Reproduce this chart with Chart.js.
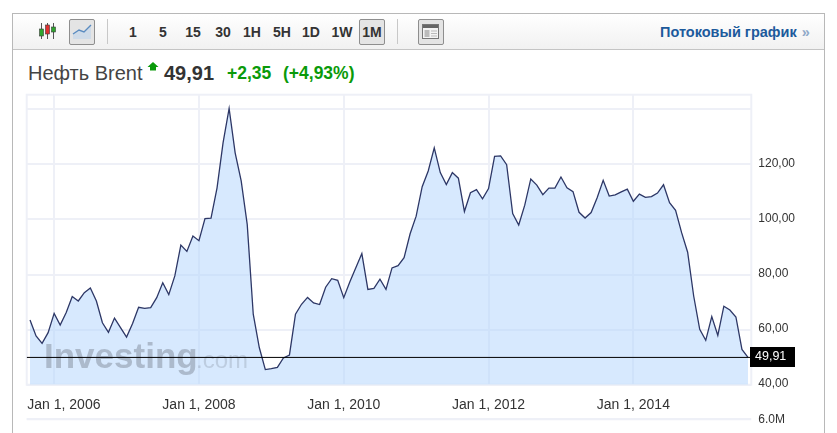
<!DOCTYPE html>
<html>
<head>
<meta charset="utf-8">
<title>Нефть Brent</title>
<script src="https://cdn.jsdelivr.net/npm/chart.js@4"></script>
<style>
html, body { margin: 0; padding: 0; background: #fff; overflow: hidden; }
body { width: 837px; height: 433px; position: relative; font-family: "Liberation Sans", Arial, sans-serif; }
#frame { position: absolute; left: 12px; top: 13px; width: 811px; height: 430px; border: 1px solid #b8b8b8; }
#toolbar { position: absolute; left: 13px; top: 14px; width: 811px; height: 35px; border-bottom: 1px solid #c4c4c4; background: linear-gradient(#fff, #f1f1f1); }
.range { position: absolute; top: 24px; width: 30px; text-align: center; font-size: 14px; line-height: 16px; font-weight: bold; color: #333; }
.btn { position: absolute; top: 19px; height: 24px; border: 1px solid #8e8e8e; border-radius: 2px; background: #e4e4e4; }
.sep { position: absolute; top: 19px; width: 1px; height: 25px; background: #c8c8c8; }
#stream { position: absolute; left: 660px; top: 24px; font-size: 14.5px; line-height: 16px; font-weight: bold; color: #1c5a9c; white-space: nowrap; }
#stream span { color: #8fa9c9; margin-left: 5px; }
.quote { position: absolute; white-space: nowrap; line-height: 22px; top: 62px; }
svg { position: absolute; }
canvas { position: absolute; left: 0; }
</style>
</head>
<body>
<div id="frame"></div>
<div id="toolbar"></div>

<svg style="left:38px;top:21px" width="20" height="20">
  <path d="M3.5 2v16M9.5 2v16M15.5 2v16" stroke="#555" stroke-width="1"/>
  <rect x="1.5" y="8" width="4" height="7" fill="#2fa52f" stroke="#3a3a3a" stroke-width=".6"/>
  <rect x="7.5" y="4" width="4" height="9" fill="#e03030" stroke="#3a3a3a" stroke-width=".6"/>
  <rect x="13.5" y="6" width="4" height="5" fill="#2fa52f" stroke="#3a3a3a" stroke-width=".6"/>
</svg>
<div class="btn" style="left:69px;width:24px"></div>
<svg style="left:71px;top:21px" width="22" height="22">
  <path d="M2 13 L8 9 L13 11 L20 4 V18 H2 Z" fill="#cfdbe8"/>
  <path d="M2 13 L8 9 L13 11 L20 4" fill="none" stroke="#5b8cc0" stroke-width="1.4"/>
</svg>
<div class="sep" style="left:107px"></div>
<div class="btn" style="left:359px;width:24px"></div>
<div class="range" style="left:118px">1</div>
<div class="range" style="left:148px">5</div>
<div class="range" style="left:178px">15</div>
<div class="range" style="left:208px">30</div>
<div class="range" style="left:237px">1H</div>
<div class="range" style="left:267px">5H</div>
<div class="range" style="left:296px">1D</div>
<div class="range" style="left:327px">1W</div>
<div class="range" style="left:357px">1M</div>
<div class="sep" style="left:397px"></div>
<div class="btn" style="left:418px;width:24px"></div>
<svg style="left:422px;top:24px" width="18" height="16">
  <rect x=".5" y=".5" width="16" height="14" fill="#f4f4f4" stroke="#777"/>
  <rect x="1" y="1" width="15" height="3" fill="#666"/>
  <rect x="2.5" y="6" width="5" height="7" fill="#bbb"/>
  <path d="M9 7h6M9 9.5h6M9 12h6" stroke="#bbb" stroke-width="1"/>
</svg>
<div id="stream">Потоковый график<span>»</span></div>

<div class="quote" style="left:28px;font-size:20px;color:#444">Нефть Brent</div>
<svg style="left:147px;top:62px" width="12" height="9"><path d="M6 0 L11.5 5 H9 V8.5 H3 V5 H.5 Z" fill="#0a9a0a"/></svg>
<div class="quote" style="left:164px;font-size:20px;font-weight:bold;color:#333">49,91</div>
<div class="quote" style="left:227px;font-size:17.5px;font-weight:bold;color:#0a9a0a">+2,35</div>
<div class="quote" style="left:283px;font-size:17.5px;font-weight:bold;color:#0a9a0a">(+4,93%)</div>

<canvas id="priceChart" style="top:0" width="837" height="433"></canvas>
<canvas id="volumeChart" style="top:405px" width="837" height="28"></canvas>

<script>
// monthly close, Sep 2005 - Aug 2015
const brentClose = [
    63.5, 57.7, 55.0, 58.9, 65.9, 61.7, 66.2, 72.0, 70.4, 73.4, 75.1, 70.4,
    62.5, 59.0, 64.2, 60.7, 57.3, 62.2, 68.1, 67.7, 68.0, 71.6, 77.0, 72.7,
    79.5, 90.7, 88.4, 94.0, 92.3, 100.3, 100.5, 111.5, 127.9, 140.3, 124.2, 114.0,
    98.2, 65.6, 53.5, 45.5, 45.8, 46.3, 49.7, 50.8, 65.6, 69.2, 71.7, 69.7,
    69.1, 75.4, 78.5, 77.9, 71.6, 77.3, 82.5, 87.6, 74.6, 75.0, 78.3, 74.6,
    82.4, 83.2, 86.1, 94.8, 101.2, 111.9, 117.6, 126.0, 117.0, 112.7, 117.0, 115.0,
    102.9, 109.7, 110.8, 107.5, 111.2, 122.9, 123.1, 119.9, 102.1, 98.0, 105.2, 114.7,
    112.5, 109.0, 111.4, 111.4, 115.4, 111.5, 110.1, 102.6, 100.5, 102.5, 107.9, 114.2,
    108.5, 108.9, 110.0, 111.0, 106.6, 109.2, 108.0, 108.3, 109.6, 112.6, 106.1, 103.3,
    95.2, 88.1, 72.2, 60.1, 56.1, 64.7, 57.9, 68.5, 67.1, 64.6, 52.8, 49.91
];
const lastPrice = 49.91;
const yearTicks = [4, 28, 52, 76, 100];
const yearLabels = ["Jan 1, 2006", "Jan 1, 2008", "Jan 1, 2010", "Jan 1, 2012", "Jan 1, 2014"];
const priceTicks = [40, 60, 80, 100, 120, 140];
const hiddenPriceTick = 140;
const volumeTicks = [6000000];

const gridColor = "#eef0f7";
const textColor = "#333";
const fontFamily = '"Liberation Sans", Arial, sans-serif';
const xMin = -0.55;
const xMax = 119.55;

function commaPrice(v) {
    return v.toFixed(2).replace(".", ",");
}

function yearLabel(v) {
    const i = yearTicks.indexOf(v);
    // the first label sits against the left edge of the plot, not centred on its tick
    return i === 0 ? "     " + yearLabels[i] : yearLabels[i];
}

const frameBox = {
    id: "frameBox",
    beforeDatasetsDraw(chart) {
        const a = chart.chartArea;
        const ctx = chart.ctx;
        ctx.save();
        ctx.strokeStyle = gridColor;
        ctx.lineWidth = 2;
        ctx.strokeRect(a.left, a.top, a.right - a.left, a.bottom - a.top);
        ctx.restore();
    }
};

const watermark = {
    id: "watermark",
    afterDatasetDraw(chart, args) {
        if (args.index !== 1) return;
        const ctx = chart.ctx;
        ctx.save();
        ctx.textBaseline = "alphabetic";
        ctx.textAlign = "left";
        ctx.fillStyle = "rgba(130,140,155,0.5)";
        ctx.font = "bold 35px " + fontFamily;
        ctx.fillText("Investing", 44, 368);
        ctx.fillStyle = "rgba(130,140,155,0.3)";
        ctx.font = "24px " + fontFamily;
        ctx.fillText(".com", 196, 368);
        ctx.restore();
    }
};

const priceTag = {
    id: "priceTag",
    afterDraw(chart) {
        const y = chart.scales.y.getPixelForValue(lastPrice);
        const ctx = chart.ctx;
        ctx.save();
        ctx.fillStyle = "#000";
        ctx.fillRect(750, Math.round(y) - 10, 45, 20);
        ctx.fillStyle = "#fff";
        ctx.font = "12.5px " + fontFamily;
        ctx.textBaseline = "middle";
        ctx.textAlign = "left";
        ctx.fillText(commaPrice(lastPrice), 755, Math.round(y));
        ctx.restore();
    }
};

new Chart(document.getElementById("priceChart"), {
    type: "line",
    data: {
        datasets: [
            {
                data: [{ x: xMin, y: lastPrice }, { x: xMax, y: lastPrice }],
                borderColor: "#000",
                borderWidth: 1,
                pointRadius: 0,
                fill: false
            },
            {
                data: brentClose.map((v, i) => ({ x: i, y: v })),
                borderColor: "#2d3766",
                borderWidth: 1.3,
                backgroundColor: "rgba(175,212,253,0.5)",
                pointRadius: 0,
                tension: 0,
                fill: "start"
            }
        ]
    },
    options: {
        responsive: false,
        animation: false,
        layout: { padding: { left: 26.7, top: 94.7, right: 0, bottom: 0 } },
        plugins: { legend: { display: false }, tooltip: { enabled: false } },
        scales: {
            x: {
                type: "linear",
                min: xMin,
                max: xMax,
                afterBuildTicks: s => { s.ticks = yearTicks.map(v => ({ value: v })); },
                afterFit: s => { s.height = 48.3; s.paddingLeft = 0; s.paddingRight = 0; },
                grid: { color: gridColor, lineWidth: 2, drawTicks: false },
                border: { display: false },
                ticks: {
                    autoSkip: false,
                    maxRotation: 0,
                    padding: 12,
                    color: textColor,
                    font: { family: fontFamily, size: 14 },
                    callback: yearLabel
                }
            },
            y: {
                position: "right",
                min: 40,
                max: 145.3,
                afterBuildTicks: s => { s.ticks = priceTicks.map(v => ({ value: v })); },
                afterFit: s => { s.width = 85.7; },
                grid: { color: gridColor, lineWidth: 2, drawTicks: false },
                border: { display: false },
                ticks: {
                    autoSkip: false,
                    padding: 7,
                    labelOffset: -1,
                    color: textColor,
                    font: { family: fontFamily, size: 12 },
                    callback: v => v === hiddenPriceTick ? "" : commaPrice(v)
                }
            }
        }
    },
    plugins: [frameBox, watermark, priceTag]
});

// empty volume panel under the price panel, only its top shows
new Chart(document.getElementById("volumeChart"), {
    type: "line",
    data: { datasets: [{ data: [], pointRadius: 0 }] },
    options: {
        responsive: false,
        animation: false,
        layout: { padding: { left: 26.7, top: 14.3, right: 0, bottom: 0 } },
        plugins: { legend: { display: false }, tooltip: { enabled: false } },
        scales: {
            x: {
                type: "linear",
                min: xMin,
                max: xMax,
                afterBuildTicks: s => { s.ticks = yearTicks.map(v => ({ value: v })); },
                afterFit: s => { s.height = 0; },
                grid: { color: gridColor, lineWidth: 2, drawTicks: false },
                border: { display: false },
                ticks: { display: false }
            },
            y: {
                position: "right",
                min: 0,
                max: 6000000,
                afterBuildTicks: s => { s.ticks = volumeTicks.map(v => ({ value: v })); },
                afterFit: s => { s.width = 85.7; },
                grid: { color: gridColor, lineWidth: 2, drawTicks: false },
                border: { display: false },
                ticks: {
                    autoSkip: false,
                    padding: 7,
                    color: textColor,
                    font: { family: fontFamily, size: 12 },
                    callback: v => (v / 1000000).toFixed(1) + "M"
                }
            }
        }
    },
    plugins: [frameBox]
});
</script>
</body>
</html>
